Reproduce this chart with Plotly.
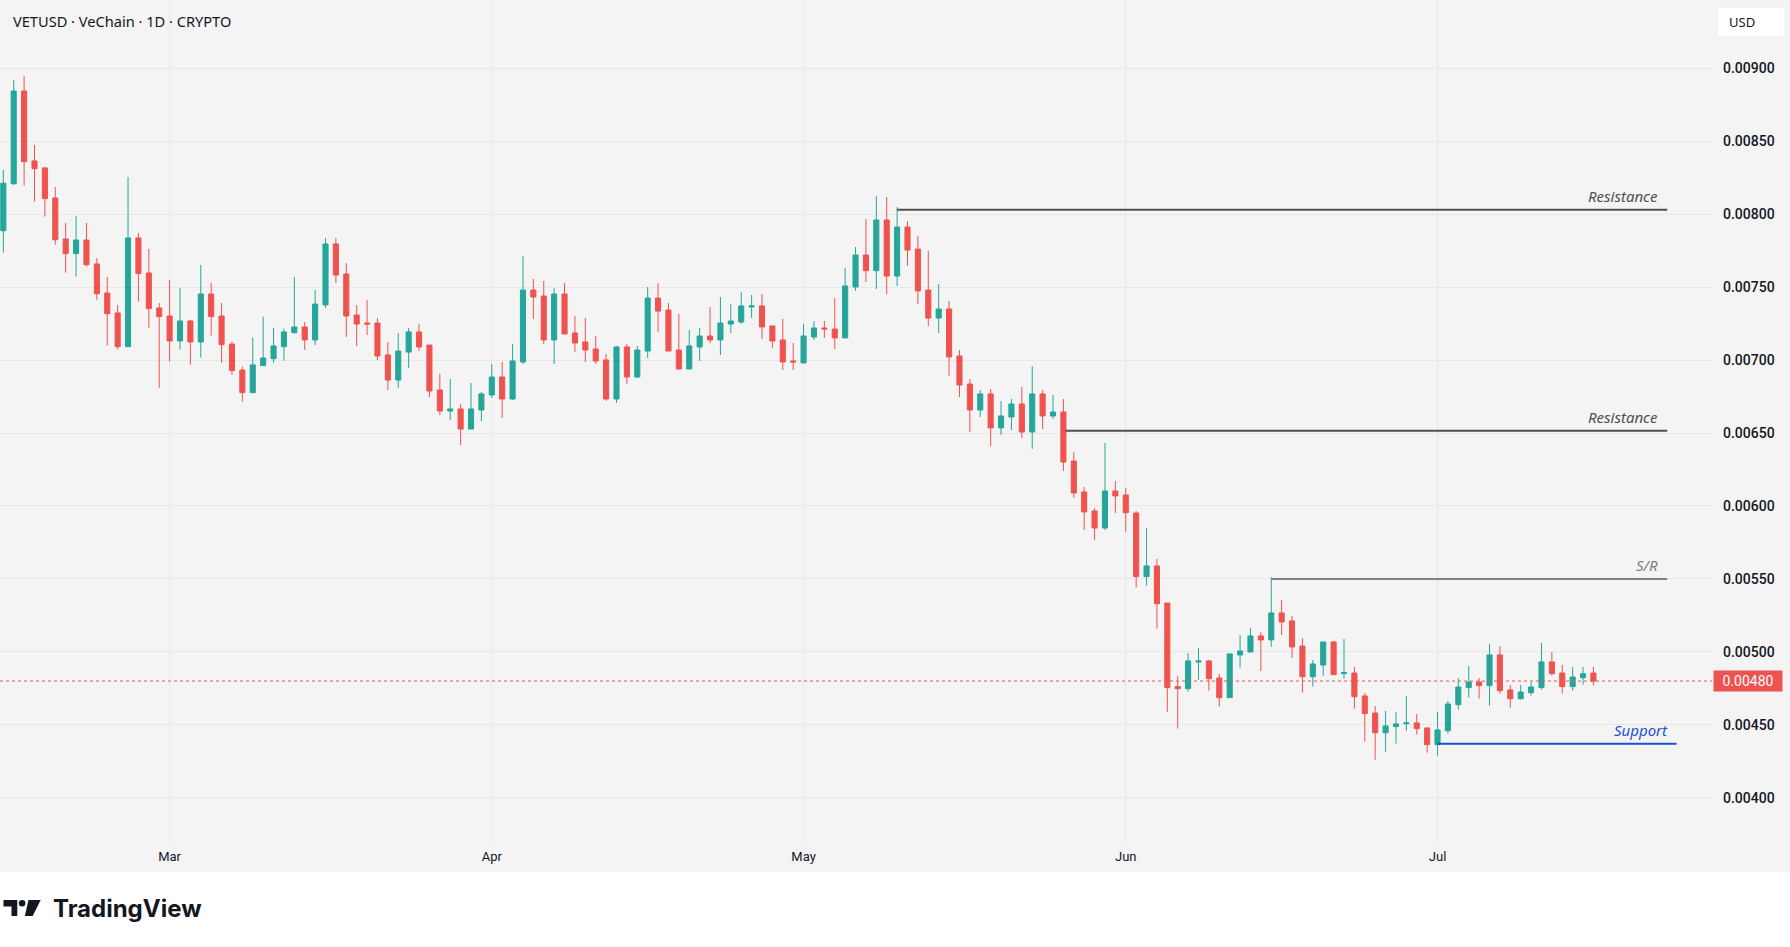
import pandas as pd
import plotly.graph_objects as go

# ---------------- data (daily candles, VETUSD) ----------------
START_DATE = "2025-02-13"

OPEN = [
    0.007887, 0.008209, 0.008844, 0.008365, 0.008317, 0.008111, 0.007830, 0.007730, 0.007823, 0.007659,
    0.007460, 0.007323, 0.007092, 0.007837, 0.007597, 0.007357, 0.007302, 0.007131, 0.007268, 0.007124,
    0.007453, 0.007302, 0.007110, 0.006932, 0.006777, 0.006962, 0.007010, 0.007092, 0.007188, 0.007227,
    0.007138, 0.007378, 0.007796, 0.007590, 0.007309, 0.007254, 0.007254, 0.007035, 0.006863, 0.007055,
    0.007193, 0.007103, 0.006795, 0.006651, 0.006665, 0.006527, 0.006658, 0.006761, 0.006884, 0.006733,
    0.006987, 0.007480, 0.007439, 0.007138, 0.007453, 0.007186, 0.007124, 0.007076, 0.007001, 0.006733,
    0.007090, 0.006884, 0.007062, 0.007425, 0.007343, 0.007069, 0.006939, 0.007090, 0.007165, 0.007138,
    0.007247, 0.007261, 0.007364, 0.007371, 0.007234, 0.007138, 0.006994, 0.006980, 0.007158, 0.007220,
    0.007213, 0.007152, 0.007501, 0.007720, 0.007613, 0.007960, 0.007576, 0.007912, 0.007761, 0.007480,
    0.007288, 0.007350, 0.007028, 0.006836, 0.006658, 0.006768, 0.006535, 0.006610, 0.006699, 0.006507,
    0.006768, 0.006617, 0.006644, 0.006308, 0.006096, 0.005966, 0.005849, 0.006103, 0.006075, 0.005952,
    0.005516, 0.005589, 0.005335, 0.004762, 0.004748, 0.004931, 0.004938, 0.004821, 0.004686, 0.004979,
    0.004999, 0.005109, 0.005082, 0.005267, 0.005212, 0.005040, 0.004830, 0.004910, 0.005068, 0.004851,
    0.004855, 0.004698, 0.004581, 0.004446, 0.004488, 0.004508, 0.004513, 0.004478, 0.004364, 0.004460,
    0.004638, 0.004755, 0.004794, 0.004769, 0.004979, 0.004739, 0.004679, 0.004720, 0.004755, 0.004931,
    0.004855, 0.004762, 0.004823, 0.004855,
]

HIGH = [
    0.008303, 0.008920, 0.008947, 0.008474, 0.008324, 0.008186, 0.007940, 0.007988, 0.007940, 0.007700,
    0.007570, 0.007378, 0.008255, 0.007871, 0.007762, 0.007391, 0.007549, 0.007494, 0.007275, 0.007652,
    0.007529, 0.007391, 0.007126, 0.006955, 0.007154, 0.007298, 0.007222, 0.007216, 0.007570, 0.007261,
    0.007480, 0.007837, 0.007837, 0.007665, 0.007378, 0.007412, 0.007288, 0.007124, 0.007185, 0.007220,
    0.007247, 0.007103, 0.006905, 0.006870, 0.006699, 0.006843, 0.006781, 0.006973, 0.006987, 0.007110,
    0.007713, 0.007556, 0.007542, 0.007494, 0.007528, 0.007302, 0.007289, 0.007165, 0.007042, 0.007097,
    0.007110, 0.007097, 0.007501, 0.007528, 0.007391, 0.007316, 0.007206, 0.007220, 0.007364, 0.007432,
    0.007385, 0.007467, 0.007446, 0.007453, 0.007234, 0.007282, 0.007117, 0.007247, 0.007268, 0.007268,
    0.007425, 0.007631, 0.007775, 0.007967, 0.008125, 0.008118, 0.008049, 0.007953, 0.007850, 0.007748,
    0.007521, 0.007405, 0.007069, 0.006870, 0.006795, 0.006802, 0.006719, 0.006733, 0.006816, 0.006959,
    0.006795, 0.006761, 0.006733, 0.006370, 0.006130, 0.005986, 0.006432, 0.006171, 0.006123, 0.005966,
    0.005849, 0.005637, 0.005335, 0.004835, 0.004992, 0.005027, 0.004945, 0.004851, 0.004986, 0.005116,
    0.005164, 0.005136, 0.005513, 0.005356, 0.005246, 0.005095, 0.004944, 0.005068, 0.005075, 0.005088,
    0.004897, 0.004718, 0.004629, 0.004595, 0.004588, 0.004698, 0.004574, 0.004485, 0.004588, 0.004664,
    0.004821, 0.004903, 0.004821, 0.005054, 0.005040, 0.004773, 0.004773, 0.004794, 0.005061, 0.004999,
    0.004910, 0.004896, 0.004896, 0.004896,
]

LOW = [
    0.007736, 0.008200, 0.008196, 0.008086, 0.007983, 0.007791, 0.007599, 0.007572, 0.007640, 0.007414,
    0.007099, 0.007072, 0.007092, 0.007401, 0.007222, 0.006811, 0.006989, 0.007072, 0.006969, 0.007017,
    0.007168, 0.006982, 0.006900, 0.006715, 0.006777, 0.006962, 0.006982, 0.006996, 0.007181, 0.007069,
    0.007103, 0.007357, 0.007528, 0.007158, 0.007096, 0.007172, 0.007000, 0.006795, 0.006809, 0.006946,
    0.007062, 0.006747, 0.006624, 0.006589, 0.006418, 0.006527, 0.006582, 0.006740, 0.006603, 0.006726,
    0.006973, 0.007282, 0.007110, 0.006973, 0.007179, 0.007055, 0.006987, 0.006973, 0.006720, 0.006706,
    0.006836, 0.006877, 0.007014, 0.007193, 0.007062, 0.006932, 0.006939, 0.006994, 0.007117, 0.007035,
    0.007186, 0.007247, 0.007289, 0.007145, 0.007083, 0.006932, 0.006932, 0.006980, 0.007138, 0.007152,
    0.007076, 0.007152, 0.007474, 0.007535, 0.007487, 0.007453, 0.007508, 0.007645, 0.007384, 0.007232,
    0.007186, 0.006891, 0.006747, 0.006507, 0.006610, 0.006411, 0.006487, 0.006521, 0.006466, 0.006391,
    0.006528, 0.006596, 0.006240, 0.006055, 0.005835, 0.005767, 0.005835, 0.005952, 0.005824, 0.005440,
    0.005454, 0.005159, 0.004590, 0.004474, 0.004727, 0.004809, 0.004734, 0.004625, 0.004686, 0.004892,
    0.004999, 0.004869, 0.005034, 0.005116, 0.004958, 0.004721, 0.004762, 0.004837, 0.004844, 0.004816,
    0.004611, 0.004385, 0.004261, 0.004316, 0.004371, 0.004460, 0.004433, 0.004309, 0.004289, 0.004440,
    0.004604, 0.004686, 0.004679, 0.004631, 0.004714, 0.004618, 0.004673, 0.004700, 0.004741, 0.004837,
    0.004714, 0.004734, 0.004775, 0.004769,
]

CLOSE = [
    0.008212, 0.008844, 0.008360, 0.008312, 0.008107, 0.007825, 0.007730, 0.007823, 0.007654, 0.007455,
    0.007318, 0.007092, 0.007837, 0.007593, 0.007353, 0.007298, 0.007131, 0.007268, 0.007124, 0.007453,
    0.007298, 0.007106, 0.006928, 0.006777, 0.006967, 0.007014, 0.007097, 0.007193, 0.007227, 0.007138,
    0.007384, 0.007796, 0.007583, 0.007302, 0.007247, 0.007247, 0.007028, 0.006863, 0.007062, 0.007193,
    0.007090, 0.006788, 0.006651, 0.006665, 0.006527, 0.006665, 0.006768, 0.006884, 0.006733, 0.006994,
    0.007480, 0.007432, 0.007138, 0.007453, 0.007179, 0.007117, 0.007069, 0.006994, 0.006733, 0.007090,
    0.006884, 0.007069, 0.007425, 0.007336, 0.007062, 0.006939, 0.007097, 0.007165, 0.007138, 0.007254,
    0.007268, 0.007371, 0.007371, 0.007227, 0.007131, 0.006987, 0.006987, 0.007165, 0.007220, 0.007213,
    0.007152, 0.007508, 0.007720, 0.007613, 0.007960, 0.007576, 0.007912, 0.007754, 0.007474, 0.007288,
    0.007350, 0.007021, 0.006829, 0.006658, 0.006768, 0.006535, 0.006617, 0.006699, 0.006507, 0.006768,
    0.006617, 0.006644, 0.006301, 0.006089, 0.005959, 0.005849, 0.006103, 0.006069, 0.005954, 0.005516,
    0.005589, 0.005330, 0.004755, 0.004748, 0.004938, 0.004938, 0.004816, 0.004686, 0.004986, 0.005006,
    0.005109, 0.005082, 0.005267, 0.005205, 0.005034, 0.004830, 0.004917, 0.005068, 0.004844, 0.004858,
    0.004693, 0.004577, 0.004446, 0.004492, 0.004506, 0.004513, 0.004474, 0.004364, 0.004465, 0.004643,
    0.004759, 0.004794, 0.004769, 0.004979, 0.004734, 0.004679, 0.004725, 0.004759, 0.004931, 0.004851,
    0.004762, 0.004828, 0.004850, 0.004800,
]

PRICE_TICKS = [0.0040, 0.0045, 0.0050, 0.0055, 0.0060, 0.0065, 0.0070, 0.0075, 0.0080, 0.0085, 0.0090]

# horizontal levels drawn on the chart: (label, price, start candle index, colour)
LEVELS = [
    ("Resistance", 0.008031, 86, "#505050"),
    ("Resistance", 0.006515, 102.2, "#505050"),
    ("S/R", 0.005500, 122, "#808080"),
    ("Support", 0.004371, 138, "#1c4fd8"),
]
LAST_PRICE = 0.00480

# ---------------- styling ----------------
W, H = 1790, 947
ML, MR, MT, MB = 0, 78, 0, 104
PW, PH = W - ML - MR, H - MT - MB
BG = "#f4f4f4"
GRID = "#e7e7e7"
GREEN = "#26a69a"
RED = "#ef5350"
TXT = "#131722"

dates = pd.date_range(START_DATE, periods=len(CLOSE), freq="D")
d0 = dates[0]


def day(f):
    return d0 + pd.Timedelta(days=f)


def px_x(px):
    return (px - ML) / PW


def px_y(py):
    return (MT + PH - py) / PH


fig = go.Figure(
    go.Candlestick(
        x=dates, open=OPEN, high=HIGH, low=LOW, close=CLOSE,
        increasing=dict(line=dict(color=GREEN, width=1), fillcolor=GREEN),
        decreasing=dict(line=dict(color=RED, width=1), fillcolor=RED),
        whiskerwidth=0, hoverinfo="skip", showlegend=False,
    )
)

shapes = []
annotations = []

# last price dotted line
shapes.append(dict(type="line", xref="paper", yref="y", x0=0, x1=1, y0=LAST_PRICE, y1=LAST_PRICE,
                   line=dict(color=RED, width=1, dash="dot"), layer="above"))

# level lines and labels
for name, lvl, i0, col in LEVELS:
    end = 161.0 if name == "Support" else 160.1
    lab = 160.4 if name == "Support" else 159.4
    shapes.append(dict(type="line", xref="x", yref="y", x0=day(i0), x1=day(end), y0=lvl, y1=lvl,
                       line=dict(color=col, width=2), layer="above"))
    annotations.append(dict(xref="x", yref="y", x=day(lab), y=lvl, text=name, showarrow=False,
                            xanchor="right", yanchor="bottom", yshift=2,
                            font=dict(family="Noto Sans", size=15, color=col, style="italic")))

# white footer band
shapes.append(dict(type="rect", xref="paper", yref="paper", x0=px_x(-5), x1=px_x(W + 5),
                   y0=px_y(H + 5), y1=px_y(872), fillcolor="white", line=dict(width=0), layer="above"))

# USD box
shapes.append(dict(type="rect", xref="paper", yref="paper", x0=px_x(1717), x1=px_x(1785),
                   y0=px_y(37), y1=px_y(7), fillcolor="white", line=dict(color="#ececec", width=1),
                   layer="above"))
annotations.append(dict(xref="paper", yref="paper", x=px_x(1727), y=px_y(22), text="USD",
                        showarrow=False, xanchor="left", yanchor="middle",
                        font=dict(family="Noto Sans", size=13, color=TXT)))

# last price tag
annotations.append(dict(xref="paper", yref="y", x=px_x(1713), y=LAST_PRICE, text=f"{LAST_PRICE:.5f}",
                        showarrow=False, xanchor="left", yanchor="middle", bgcolor=RED,
                        width=64, height=16, borderpad=2,
                        font=dict(family="Roboto", size=14, color="white")))

# title
annotations.append(dict(xref="paper", yref="paper", x=px_x(11), y=px_y(21),
                        text="VETUSD · VeChain · 1D · CRYPTO", showarrow=False,
                        xanchor="left", yanchor="middle",
                        font=dict(family="Noto Sans", size=14.6, color=TXT)))

# TradingView logo
def P(pts):
    return "M " + " L ".join(f"{px_x(a):.6f},{px_y(b):.6f}" for a, b in pts) + " Z"

shapes.append(dict(type="path", xref="paper", yref="paper",
                   path=P([(3.5, 900), (17.3, 900), (17.3, 916), (11.5, 916), (11.5, 906.5), (3.5, 906.5)]),
                   fillcolor="#131722", line=dict(width=0), layer="above"))
shapes.append(dict(type="circle", xref="paper", yref="paper", x0=px_x(18.8), x1=px_x(25.4),
                   y0=px_y(906.6), y1=px_y(900), fillcolor="#131722", line=dict(width=0), layer="above"))
shapes.append(dict(type="path", xref="paper", yref="paper",
                   path=P([(28.5, 900), (40.7, 900), (32.7, 916), (24.8, 916)]),
                   fillcolor="#131722", line=dict(width=0), layer="above"))
annotations.append(dict(xref="paper", yref="paper", x=px_x(51), y=px_y(908), text="<b>TradingView</b>",
                        showarrow=False, xanchor="left", yanchor="middle",
                        font=dict(family="Inter", size=24, color="#131722")))

x_start = day(-0.32)
x_end = day((PW - 3.3) / 10.393)

fig.update_layout(
    width=W, height=H,
    margin=dict(l=ML, r=MR, t=MT, b=MB, pad=0),
    paper_bgcolor=BG, plot_bgcolor=BG,
    showlegend=False,
    shapes=shapes, annotations=annotations,
    xaxis=dict(type="date", range=[x_start, x_end], rangeslider=dict(visible=False),
               showgrid=True, gridcolor=GRID, gridwidth=1, zeroline=False, showline=False,
               tick0="2025-03-01", dtick="M1", tickformat="%b", ticks="",
               ticklabelstandoff=4,
               tickfont=dict(family="Roboto", size=13, color=TXT)),
    yaxis=dict(side="right", range=[0.00369, 0.009468], tickvals=PRICE_TICKS, tickformat=".5f",
               showgrid=True, gridcolor=GRID, gridwidth=1, zeroline=False, showline=False,
               ticks="", ticklabelstandoff=10,
               tickfont=dict(family="Roboto", size=14, color=TXT, weight=500)),
    boxgap=0.3,
)

fig.write_html("out.html")
